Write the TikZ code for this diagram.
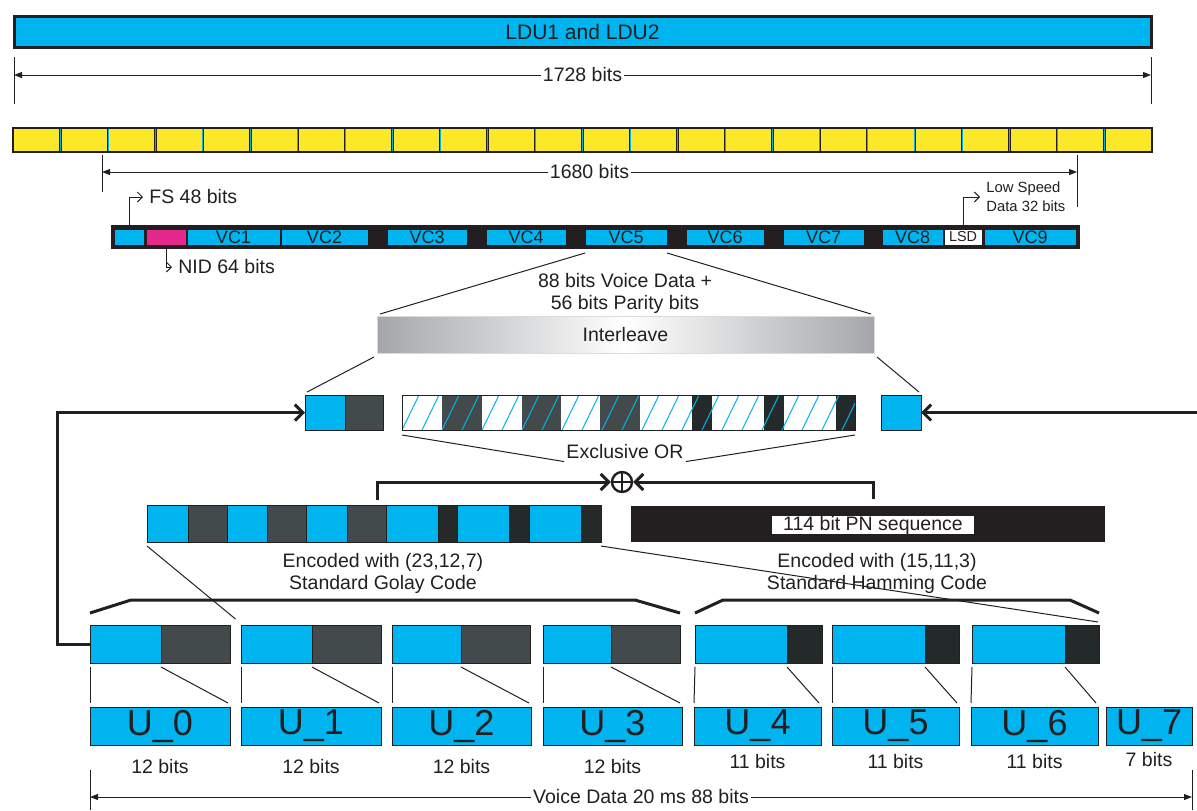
\documentclass[tikz,border=0pt]{standalone}
\usepackage{fontspec}
\setmainfont{Liberation Sans}
\usetikzlibrary{arrows.meta,calc}

\definecolor{ldublue}{HTML}{00B4EF}
\definecolor{ink}{HTML}{231F20}
\definecolor{slate}{HTML}{434A4B}
\definecolor{coal}{HTML}{232A29}
\definecolor{nidpink}{HTML}{E5288B}
\definecolor{frameyellow}{HTML}{FBE829}
\definecolor{ilgray}{HTML}{A4A6A9}

\tikzset{
  cellbase/.style={rectangle, inner sep=0pt, outer sep=0pt, draw=ink, line width=0.5pt, text=ink},
  dimline/.style={ink, line width=0.5pt, <->, >={Triangle[length=4pt,width=3pt]}},
  tickline/.style={ink, line width=0.5pt},
  thinline/.style={ink, line width=0.5pt},
  callout/.style={ink, line width=0.5pt, ->, >={Straight Barb[length=2.5pt,width=5pt]}},
  loopline/.style={ink, line width=1.5pt, ->, >={Straight Barb[length=4pt,width=8pt]}},
  bracket/.style={ink, line width=1.5pt},
  lbl/.style={text=ink, inner sep=1pt},
}

% box from (x1,y1) to (x2,y2), picture units
\newcommand\bitcell[7]{%
  \node[cellbase, minimum width={(#4-#2)*0.5pt}, minimum height={(#5-#3)*0.5pt}, #6]
    (#1) at ({(#2+#4)/2},{(#3+#5)/2}) {#7};}

\begin{document}
\begin{tikzpicture}[x=0.5pt, y=-0.5pt, font=\fontsize{9.75}{11}\selectfont]
\useasboundingbox (0,0) rectangle (1197,810);

% LDU
\bitcell{ldu}{14}{16}{1151}{47}{fill=ldublue, line width=1.5pt, font=\fontsize{10.5}{12}\selectfont}{LDU1 and LDU2}
\coordinate (d1a) at (14,75);
\coordinate (d1b) at (1151,75);
\draw[tickline] (14,57) -- (14,104) (1151,57) -- (1151,104);
\draw[dimline] (d1a) -- node[lbl, fill=white] (len1) {1728 bits} (d1b);

% frames
\bitcell{frames}{13}{128}{1152}{152}{fill=frameyellow, line width=1pt}{}
\foreach \i in {1,...,23} {
  \draw[ink, line width=1.2pt] ({13+\i*47.46},128) -- ++(0,24);
  \draw[ldublue, line width=0.4pt] ({13+\i*47.46},129) -- ++(0,22);
}
\coordinate (d2a) at (102,172);
\coordinate (d2b) at (1077,172);
\draw[tickline] (102,155) -- (102,192) (1077,155) -- (1077,207);
\draw[dimline] (d2a) -- node[lbl, fill=white] (len2) {1680 bits} (d2b);

% voice frame
\bitcell{vcbar}{111}{225}{1079}{248}{fill=ink}{}
\bitcell{fs}{114}{229}{144}{245}{fill=ldublue}{}
\bitcell{nid}{146}{229}{186}{245}{fill=nidpink}{}
\foreach \nm/\xa/\xb in {vc1/187/280, vc2/281/368, vc3/387/467, vc4/486/566, vc5/585/667,
    vc6/686/764, vc7/783/864, vc8/882/943, vc9/984/1076} {
  \bitcell{\nm}{\xa}{229}{\xb}{245}{fill=ldublue, font=\fontsize{9}{9}\selectfont}{\MakeUppercase\nm}
}
\bitcell{lsd}{944}{229}{982}{245}{fill=white, font=\fontsize{7.2}{8}\selectfont}{LSD}

\node[lbl, anchor=west, inner sep=3pt] (fslbl) at (143,197) {FS 48 bits};
\draw[callout] (fs.north) |- (fslbl.west);
\node[lbl, anchor=west, inner sep=3pt] (nidlbl) at (172,267) {NID 64 bits};
\draw[callout] (nid.south) |- (nidlbl.west);
\node[lbl, anchor=west, inner sep=3pt, align=left, font=\fontsize{7.4}{9.5}\selectfont] (lsdlbl) at (980,197) {Low Speed\\Data 32 bits};
\draw[callout] (lsd.north) |- (lsdlbl.west);

% interleave
\node[lbl, align=center] (vdlbl) at (625,293) {88 bits Voice Data +\\56 bits Parity bits};
\bitcell{il}{377}{316}{874}{353}{draw=ilgray!40, left color=ilgray, right color=ilgray, middle color=white}{Interleave}
\draw[thinline] ($(vc5.south west)+(0,8)$) -- ($(il.north west)+(3,-2)$);
\draw[thinline] ($(vc5.south east)+(0,8)$) -- ($(il.north east)+(-3,-2)$);

\bitcell{xa}{305}{395}{345}{430}{fill=ldublue}{}
\bitcell{xb}{345}{395}{383}{430}{fill=slate}{}
\bitcell{xc}{881}{395}{921}{430}{fill=ldublue}{}
\foreach \xa/\xb/\col in {402/442/white, 442/482/slate, 482/522/white, 522/561/slate, 561/600/white,
    600/640/slate, 640/692/white, 692/712/coal, 712/764/white, 764/784/coal, 784/836/white, 836/855/coal} {
  \fill[\col] (\xa,395) rectangle (\xb,430);
}
\begin{scope}
  \clip (402,395) rectangle (855,430);
  \foreach \x in {382,402,...,862} {
    \draw[ldublue, line width=0.5pt] (\x,430) -- ({\x+17},395);
  }
\end{scope}
\bitcell{hb}{402}{395}{855}{430}{}{}
\draw[thinline] ($(il.south west)+(-3,4)$) -- ($(xa.north west)+(2,-3)$);
\draw[thinline] ($(il.south east)+(3,4)$) -- ($(xc.north east)+(-2,-3)$);

% exclusive or
\node[lbl] (xorlbl) at (625,452) {Exclusive OR};
\draw[thinline] ($(hb.south west)+(0,5)$) -- (xorlbl.south west);
\draw[thinline] ($(hb.south east)+(0,5)$) -- (xorlbl.south east);
\node[circle, draw=ink, line width=1.2pt, minimum size=10pt, inner sep=0pt] (xor) at (622,482) {};
\draw[ink, line width=1.2pt] (xor.north) -- (xor.south) (xor.west) -- (xor.east);

\foreach \i/\xa/\xb/\col in {1/147/188/ldublue, 2/188/227/slate, 3/227/267/ldublue, 4/267/306/slate,
    5/306/347/ldublue, 6/347/386/slate, 7/386/438/ldublue, 8/438/457/coal, 9/457/509/ldublue,
    10/509/529/coal, 11/529/581/ldublue, 12/581/601/coal} {
  \bitcell{e\i}{\xa}{505}{\xb}{542}{fill=\col}{}
}
\bitcell{enc}{147}{505}{601}{542}{}{}
\bitcell{pn}{631}{506}{1104}{541}{fill=ink}{}
\node[lbl, fill=white, minimum width=101pt, minimum height=8pt, inner sep=0pt] (pnlbl) at (873,525) {114 bit PN sequence};

\draw[loopline] ($(e6.north)+(11,-5)$) |- (xor.west);
\draw[loopline] ($(pn.north)+(6,-7)$) |- (xor.east);

\node[lbl, align=center] (golaylbl) at (383,573) {Encoded with (23,12,7)\\Standard Golay Code};
\node[lbl, align=center] (hamlbl) at (877,573) {Encoded with (15,11,3)\\Standard Hamming Code};

% code words
\foreach \i/\xa/\xs/\xb/\col in {0/90/161/230/slate, 1/241/312/381/slate, 2/392/461/530/slate,
    3/543/611/680/slate, 4/695/787/822/coal, 5/832/925/959/coal, 6/972/1065/1099/coal} {
  \bitcell{c\i}{\xa}{625}{\xb}{663}{fill=ldublue}{}
  \bitcell{p\i}{\xs}{625}{\xb}{663}{fill=\col}{}
}
\draw[thinline] ($(enc.south west)+(0,4)$) -- ($(c0.north east)!0.5!(c1.north west)+(0,-6)$);
\draw[thinline] ($(enc.south east)+(0,4)$) -- ($(c6.north east)+(-1,-3)$);
\draw[bracket] ($(c0.north west)+(0,-12)$) -- ($(c0.north west)+(41,-25)$)
  -- ($(c3.north east)+(-45,-25)$) -- ($(c3.north east)+(0,-12)$);
\draw[bracket] ($(c4.north west)+(0,-12)$) -- ($(c4.north west)+(28,-25)$)
  -- ($(c6.north east)+(-29,-25)$) -- ($(c6.north east)+(0,-12)$);

% voice words
\foreach \i/\xa/\xb in {0/90/230, 1/241/381, 2/392/531, 3/543/682, 4/694/821, 5/832/959, 6/971/1098, 7/1106/1192} {
  \bitcell{u\i}{\xa}{707}{\xb}{745}{fill=ldublue, font=\fontsize{18}{18}\selectfont}{U\_\i}
}
\foreach \i in {0,...,6} {
  \draw[thinline] ($(c\i.south west)+(0,4)$) -- ($(u\i.north west)+(0,-4)$);
  \draw[thinline] ($(p\i.south west)+(0,4)$) -- ($(u\i.north east)+(-2,-4)$);
}
\foreach \i/\n/\dy in {0/12/22, 1/12/22, 2/12/22, 3/12/22, 4/11/17, 5/11/17, 6/11/17, 7/7/15} {
  \node[lbl] (b\i) at ($(u\i.south)+(0,\dy)$) {\n\ bits};
}
\coordinate (d3a) at (90,797);
\coordinate (d3b) at (1192,797);
\draw[tickline] (90,770) -- (90,810) (1192,770) -- (1192,810);
\draw[dimline] (d3a) -- node[lbl, fill=white] (len3) {Voice Data 20 ms 88 bits} (d3b);

% feedback
\coordinate (pnfeed) at (1197,412.5);
\draw[loopline] (c0.west) -- ++(-33,0) |- (xa.west);
\draw[loopline] (pnfeed) -- (xc.east);

\end{tikzpicture}
\end{document}
